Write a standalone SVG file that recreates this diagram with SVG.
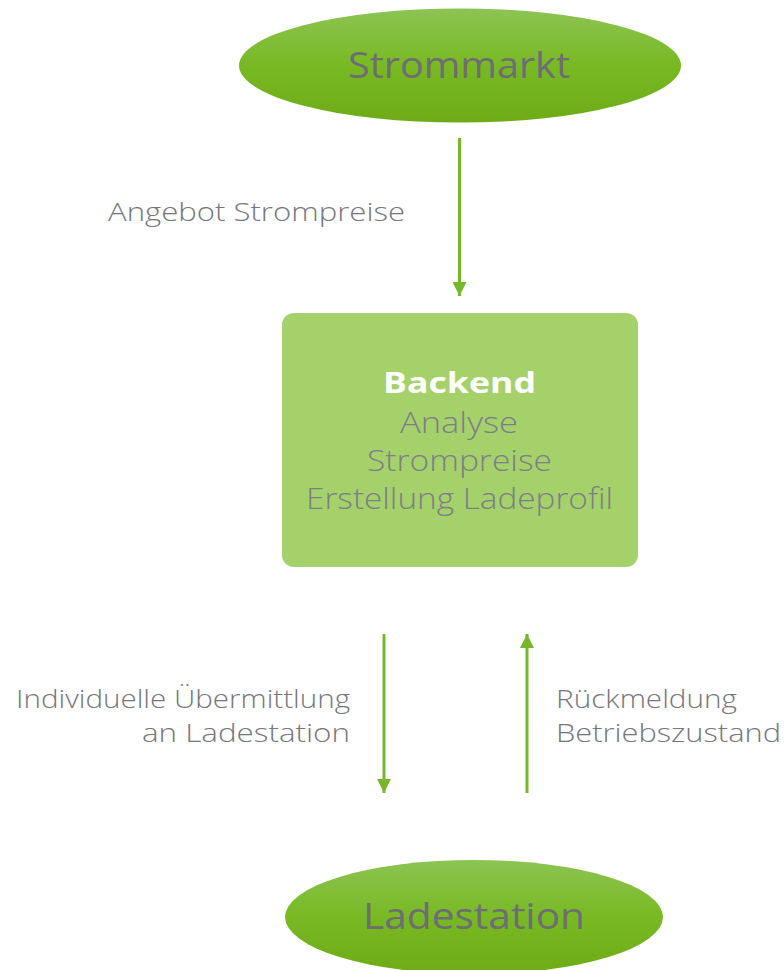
<svg xmlns="http://www.w3.org/2000/svg" width="784" height="970" viewBox="0 0 784 970">
<style>
.lbl{font-family:"Open Sans",Lato,sans-serif;font-weight:300;font-size:26px;fill:#76767c}
.ell{font-family:"Open Sans",Lato,sans-serif;font-weight:400;font-size:36px;fill:#6d6d73}
.box{font-family:"Open Sans",Lato,sans-serif;font-weight:300;font-size:29px;fill:#7e7e88}
.conn{stroke:#76b82a;stroke-width:3;fill:none}
</style>
<defs>
<linearGradient id="g" x1="0" y1="0" x2="0" y2="1">
<stop offset="0" stop-color="#8cc453"/>
<stop offset="0.5" stop-color="#78b923"/>
<stop offset="1" stop-color="#6eab17"/>
</linearGradient>
<marker id="ah" viewBox="0 0 10 10" refX="10" refY="5" markerWidth="15" markerHeight="14" markerUnits="userSpaceOnUse" orient="auto">
<path d="M0,0 L10,5 L0,10 Z" fill="#76b82a"/>
</marker>
</defs>
<rect width="784" height="970" fill="#ffffff"/>
<g id="strommarkt">
<ellipse cx="460" cy="65.500" rx="221" ry="57" fill="url(#g)"/>
<text class="ell" x="348" y="78" textLength="222" lengthAdjust="spacingAndGlyphs">Strommarkt</text>
</g>
<g id="backend">
<rect x="282" y="313" width="356" height="254" rx="12" fill="#a5d16a"/>
<text class="box" x="383" y="393" textLength="153" lengthAdjust="spacingAndGlyphs" style="font-weight:700;fill:#ffffff">Backend</text>
<text class="box" x="400" y="433" textLength="118" lengthAdjust="spacingAndGlyphs">Analyse</text>
<text class="box" x="367" y="471" textLength="185" lengthAdjust="spacingAndGlyphs">Strompreise</text>
<text class="box" x="306" y="509" textLength="307" lengthAdjust="spacingAndGlyphs">Erstellung Ladeprofil</text>
</g>
<g id="ladestation">
<ellipse cx="474" cy="917" rx="189" ry="57" fill="url(#g)"/>
<text class="ell" x="363" y="929" textLength="222" lengthAdjust="spacingAndGlyphs">Ladestation</text>
</g>
<g id="connectors">
<line class="conn" x1="459.500" y1="138" x2="459.500" y2="296" marker-end="url(#ah)"/>
<line class="conn" x1="384" y1="634" x2="384" y2="793" marker-end="url(#ah)"/>
<line class="conn" x1="527" y1="793" x2="527" y2="634" marker-end="url(#ah)"/>
</g>
<g id="labels">
<text class="lbl" x="108" y="221" textLength="297" lengthAdjust="spacingAndGlyphs">Angebot Strompreise</text>
<text class="lbl" x="16" y="708" textLength="334" lengthAdjust="spacingAndGlyphs">Individuelle Übermittlung</text>
<text class="lbl" x="142" y="742" textLength="208" lengthAdjust="spacingAndGlyphs">an Ladestation</text>
<text class="lbl" x="556" y="708" textLength="181" lengthAdjust="spacingAndGlyphs">Rückmeldung</text>
<text class="lbl" x="556" y="742" textLength="225" lengthAdjust="spacingAndGlyphs">Betriebszustand</text>
</g>
</svg>
